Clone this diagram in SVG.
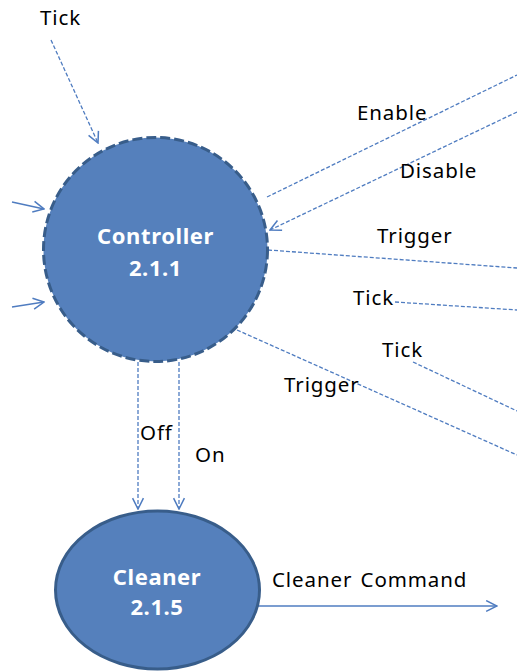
<svg xmlns="http://www.w3.org/2000/svg" width="517" height="672" viewBox="0 0 517 672">
  <style>
    .lbl { font-family: "Noto Sans", "Open Sans", sans-serif; font-size: 20.5px; letter-spacing: 0.9px; fill: #000; }
    .node-text { font-family: "Noto Sans", "Open Sans", sans-serif; font-size: 22px; font-weight: bold; letter-spacing: 0.6px; fill: #fff; text-anchor: middle; }
    .flow { stroke: #4F7CC0; stroke-width: 1.3; fill: none; stroke-dasharray: 4 2; }
    .solid { stroke: #4F7CC0; stroke-width: 1.4; fill: none; }
  </style>
  <defs>
    <marker id="open" viewBox="0 0 12 12" refX="11" refY="6" markerWidth="13" markerHeight="13" markerUnits="userSpaceOnUse" orient="auto">
      <path d="M1,1 L11,6 L1,11" fill="none" stroke="#4F7CC0" stroke-width="1.4"/>
    </marker>
  </defs>

  <g id="connectors">
    <!-- incoming tick from top -->
    <path class="flow" d="M51,40 L98,143" marker-end="url(#open)"/>
    <!-- incoming flows from left -->
    <path class="solid" d="M12,202 L44,209" marker-end="url(#open)"/>
    <path class="solid" d="M12,307 L44,302" marker-end="url(#open)"/>
    <!-- right side flows -->
    <path class="flow" d="M267,197 L517,75"/>
    <path class="flow" d="M517,112 L270,230" marker-end="url(#open)"/>
    <path class="flow" d="M268,250 L517,268"/>
    <path class="flow" d="M395,302 L517,310"/>
    <path class="flow" d="M413,362 L517,411"/>
    <path class="flow" d="M237,330 L517,455"/>
    <!-- controller to cleaner -->
    <path class="flow" d="M138,362 L138,509" marker-end="url(#open)"/>
    <path class="flow" d="M179,362 L179,509" marker-end="url(#open)"/>
    <!-- cleaner output -->
    <path class="solid" d="M258,606 L497,606" marker-end="url(#open)"/>
  </g>

  <g id="controller">
    <circle cx="155.5" cy="249.5" r="112" fill="#5580BC" stroke="#385D8A" stroke-width="3" stroke-dasharray="10 4"/>
    <text class="node-text" x="155.5" y="244">Controller</text>
    <text class="node-text" x="155.5" y="276">2.1.1</text>
  </g>

  <g id="cleaner">
    <ellipse cx="157.5" cy="590" rx="102" ry="79" fill="#5580BC" stroke="#385D8A" stroke-width="3"/>
    <text class="node-text" x="157" y="585">Cleaner</text>
    <text class="node-text" x="157" y="615">2.1.5</text>
  </g>

  <g id="labels">
    <text class="lbl" x="40" y="25">Tick</text>
    <text class="lbl" x="357" y="120">Enable</text>
    <text class="lbl" x="400" y="178">Disable</text>
    <text class="lbl" x="377" y="243">Trigger</text>
    <text class="lbl" x="353" y="305">Tick</text>
    <text class="lbl" x="382" y="357">Tick</text>
    <text class="lbl" x="284" y="392">Trigger</text>
    <text class="lbl" x="140" y="440">Off</text>
    <text class="lbl" x="195" y="462">On</text>
    <text class="lbl" x="272" y="587" letter-spacing="1.7" word-spacing="2">Cleaner Command</text>
  </g>
</svg>
